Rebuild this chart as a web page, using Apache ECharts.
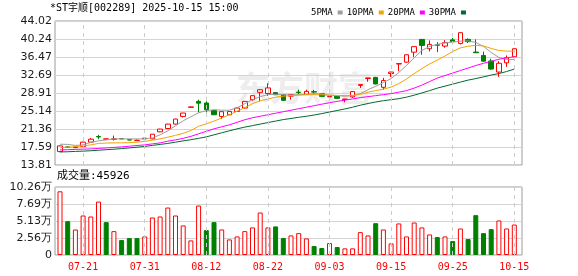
<!DOCTYPE html>
<html>
<head>
<meta charset="utf-8">
<script src="https://cdn.jsdelivr.net/npm/echarts@6.0.0/dist/echarts.min.js"></script>
<style>
  html, body { margin: 0; padding: 0; background: #fff; }
  #main { width: 578px; height: 276px; }
</style>
</head>
<body>
<div id="main"></div>
<script>
// 交易日
var dates = ['07-16','07-17','07-18','07-21','07-22','07-23','07-24','07-25','07-28','07-29','07-30','07-31',
  '08-01','08-04','08-05','08-06','08-07','08-08','08-11','08-12','08-13','08-14','08-15','08-18','08-19','08-20','08-21','08-22',
  '08-25','08-26','08-27','08-28','08-29','09-01','09-02','09-03','09-04','09-05','09-08','09-09','09-10','09-11','09-12','09-15',
  '09-16','09-17','09-18','09-19','09-22','09-23','09-24','09-25','09-26','09-29','09-30','10-09','10-10','10-13','10-14','10-15'];

// [开盘, 收盘, 最低, 最高]
var kline = [
  [16.62,17.82,16.50,17.90],[17.60,17.52,17.45,17.70],[17.45,17.56,17.35,17.65],[17.67,18.60,17.60,18.70],
  [18.60,19.23,18.55,19.50],[19.78,19.70,19.23,20.14],[19.22,19.30,19.15,19.35],[19.20,19.30,18.94,19.99],
  [19.35,19.30,19.25,19.40],[19.12,19.05,19.00,19.15],[18.95,19.00,18.90,19.15],[19.30,19.45,19.20,19.60],
  [19.29,20.28,19.20,20.30],[20.77,21.34,20.70,21.40],[21.46,22.39,21.40,22.45],[22.39,23.45,22.30,23.50],
  [24.00,24.71,23.78,24.75],[25.90,26.00,25.85,26.05],[27.16,26.78,24.84,27.52],[26.82,25.41,24.84,27.16],
  [25.26,24.35,24.30,25.30],[24.00,25.00,23.45,25.10],[24.35,25.05,24.30,25.10],[25.05,25.76,25.00,25.90],
  [25.76,27.16,25.70,27.20],[27.52,28.36,27.30,28.40],[29.05,29.60,27.16,29.70],[28.80,29.98,28.30,30.95],
  [29.00,28.55,28.50,29.10],[28.57,27.37,27.30,28.60],[28.25,28.57,27.52,28.60],[29.10,29.00,28.57,29.62],
  [28.65,29.26,28.50,29.60],[29.18,29.12,28.60,29.55],[28.75,28.21,28.15,28.80],[28.10,28.22,27.50,28.25],
  [28.21,27.79,27.75,28.25],[27.55,27.65,26.95,27.70],[28.10,29.20,27.90,29.30],[30.50,30.68,29.98,30.70],
  [31.95,32.08,31.30,32.10],[32.19,30.82,30.70,32.30],[30.11,31.52,29.62,32.09],[33.00,33.31,32.26,33.35],
  [35.00,35.08,33.48,35.10],[35.38,36.94,35.30,37.00],[37.48,38.64,36.47,38.70],[40.16,38.90,36.94,40.20],
  [38.20,39.11,37.63,39.95],[39.05,38.95,37.49,39.59],[38.75,39.47,38.41,40.01],[40.06,39.68,39.38,40.44],
  [39.32,41.57,39.10,41.60],[40.16,39.68,39.40,40.37],[37.50,37.36,37.30,40.16],[36.79,35.59,35.50,37.60],
  [35.62,33.94,33.80,36.10],[33.31,35.15,32.30,35.60],[35.25,36.30,34.41,36.79],[36.52,38.20,36.50,38.25]
];

var ma5 = [18.17,18.13,17.92,18.03,18.55,18.87,19.08,19.29,19.29,19.29,19.29,19.29,19.50,20.14,20.98,22.03,
  23.09,23.93,24.77,25.20,25.41,25.30,25.30,25.83,26.67,27.51,28.15,28.57,28.63,28.57,28.46,28.57,28.63,28.78,
  28.67,28.46,28.36,28.25,28.36,28.78,29.62,30.32,31.10,31.94,33.21,34.68,36.30,37.84,38.69,39.11,39.42,39.59,
  39.80,39.85,39.53,38.69,37.42,36.37,35.95,35.95];
var ma10 = [17.46,17.54,17.67,17.82,18.03,18.34,18.41,18.45,18.47,18.49,18.60,18.77,19.02,19.29,19.64,20.03,
  20.45,21.04,21.93,22.45,23.02,23.66,24.35,25.09,25.83,26.67,27.30,27.62,28.04,28.25,28.36,28.46,28.53,28.57,
  28.53,28.46,28.40,28.36,28.42,28.57,29.09,29.41,29.73,30.15,30.89,31.84,32.99,34.05,35.00,35.84,36.68,37.63,
  38.37,38.73,38.90,38.79,38.27,37.84,37.70,37.70];
var ma20 = [16.97,17.02,17.08,17.14,17.18,17.29,17.39,17.50,17.61,17.75,17.90,18.03,18.24,18.45,18.81,19.08,
  19.40,19.82,20.35,20.87,21.40,21.82,22.24,22.77,23.30,23.72,24.04,24.35,24.67,24.99,25.30,25.62,25.93,26.25,
  26.57,26.88,27.16,27.41,27.66,27.94,28.15,28.36,28.57,28.78,29.09,29.41,29.94,30.57,31.31,32.05,32.57,33.10,
  33.63,34.15,34.68,35.14,35.57,35.99,36.30,36.52];
var ma30 = [16.55,16.59,16.66,16.72,16.80,16.91,17.02,17.12,17.25,17.39,17.54,17.71,17.92,18.13,18.34,18.60,
  18.87,19.12,19.40,19.71,20.14,20.56,20.98,21.40,21.76,22.07,22.39,22.71,23.02,23.34,23.57,23.82,24.04,24.29,
  24.60,24.92,25.24,25.57,25.93,26.35,26.71,27.03,27.30,27.51,27.72,28.04,28.46,28.93,29.41,29.94,30.36,30.78,
  31.20,31.62,31.94,32.30,32.68,32.99,33.42,33.94];

// 成交量(手) 与 涨跌(1涨 0跌)
var volume = [96100,51000,38500,59600,58100,80600,49600,36000,22500,25500,25500,28000,56600,58100,71600,59600,
  44600,22000,74600,37600,49600,38500,23500,28000,36000,41600,64100,41600,43100,25500,29500,33000,25000,13500,
  10500,18000,12000,10000,10000,34500,29500,48000,38500,17500,47600,28000,49000,41600,31000,27000,28000,21000,
  40000,24000,60100,33000,39000,52100,40000,45926];
var volUp = [1,0,1,1,1,1,0,1,0,0,0,1,1,1,1,1,1,1,1,0,0,1,1,1,1,1,1,1,0,0,1,1,1,0,0,1,0,1,1,1,1,0,1,1,1,1,1,1,1,0,
  1,0,1,0,0,0,0,1,1,1];

var priceTicks = ['13.81','17.59','21.36','25.14','28.91','32.69','36.47','40.24','44.02'];
var volTicks = ['0','2.56万','5.13万','7.69万','10.26万'];
var priceMin = 13.81, priceMax = 44.02;
var volMax = 102600;

var RED = '#ff0000', GREEN = '#008000';
var labelFont = 'DejaVu Sans';
var monoFont = '"DejaVu Sans Mono", "Noto Sans CJK SC", monospace';

var priceStep = (priceMax - priceMin) / 8;
var volStep = volMax / 4;

var showDay = function (idx) { return (idx - 3) % 8 === 0; };
var markDays = dates.filter(function (d, i) { return showDay(i); }).map(function (d) { return { xAxis: d }; });
var dashLine = {
  silent: true,
  symbol: ['none', 'none'],
  label: { show: false },
  lineStyle: { color: '#cccccc', type: [4, 4], width: 1 },
  emphasis: { disabled: true },
  animation: false,
  data: markDays
};

var myChart = echarts.init(document.getElementById('main'), null, { renderer: 'canvas' });
myChart.setOption({
  animation: false,
  backgroundColor: '#fff',
  textStyle: { fontFamily: labelFont },
  legend: {
    data: ['5PMA', '10PMA', '20PMA', '30PMA'],
    left: 306,
    top: 3,
    align: 'right',
    icon: 'rect',
    itemWidth: 5,
    itemHeight: 4,
    itemGap: 4,
    selectedMode: false,
    textStyle: { fontFamily: monoFont, fontSize: 9, color: '#000' }
  },
  graphic: [
    {
      type: 'text', left: 50, top: 3, z: 10,
      style: { text: '*ST宇顺[002289] 2025-10-15 15:00', font: '10px ' + monoFont, fill: '#000' }
    },
    {
      type: 'text', left: 57, top: 171, z: 10,
      style: { text: '成交量:' + volume[volume.length - 1], font: '11px ' + monoFont, fill: '#000' }
    },
    {
      type: 'text', left: 236, top: 71, z: -1,
      style: { text: '东方财富', font: 'bold 34px "Noto Sans CJK SC"', fill: '#ededed' }
    }
  ],
  grid: [
    { left: 55, top: 21, width: 467, height: 144, show: true, borderColor: '#9a9a9a', borderWidth: 1, backgroundColor: 'transparent' },
    { left: 56.15, top: 21, width: 462, height: 144 },
    { left: 55, top: 187, width: 467, height: 68, show: true, borderColor: '#9a9a9a', borderWidth: 1, backgroundColor: 'transparent' },
    { left: 56.15, top: 187, width: 462, height: 68 }
  ],
  xAxis: [
    { type: 'value', gridIndex: 0, show: false, min: 0, max: 1 },
    { type: 'category', gridIndex: 1, data: dates, boundaryGap: true,
      axisLine: { show: false }, axisTick: { show: false }, axisLabel: { show: false }, splitLine: { show: false } },
    { type: 'value', gridIndex: 2, show: false, min: 0, max: 1 },
    { type: 'category', gridIndex: 3, data: dates, boundaryGap: true,
      axisLine: { show: false }, axisTick: { show: false }, splitLine: { show: false },
      axisLabel: { interval: function (i) { return showDay(i); }, color: RED, fontFamily: monoFont, fontSize: 10, margin: 7 } }
  ],
  yAxis: [
    { type: 'value', gridIndex: 0, min: priceMin, max: priceMax, interval: priceStep,
      axisLine: { show: false }, axisTick: { show: false },
      splitLine: { show: true, lineStyle: { color: '#d4d4d4', width: 1 } },
      axisLabel: { color: '#1a1a1a', fontSize: 11, margin: 3, fontFamily: labelFont,
        formatter: function (v) { return priceTicks[Math.round((v - priceMin) / priceStep)]; } } },
    { type: 'value', gridIndex: 1, min: priceMin, max: priceMax, show: false, splitLine: { show: false } },
    { type: 'value', gridIndex: 2, min: 0, max: volMax, interval: volStep,
      axisLine: { show: false }, axisTick: { show: false },
      splitLine: { show: true, lineStyle: { color: '#d4d4d4', width: 1 } },
      axisLabel: { color: '#1a1a1a', fontSize: 11, margin: 3, fontFamily: labelFont,
        formatter: function (v) { return volTicks[Math.round(v / volStep)]; } } },
    { type: 'value', gridIndex: 3, min: 0, max: volMax, show: false, splitLine: { show: false } }
  ],
  series: [
    {
      type: 'candlestick', name: 'K', xAxisIndex: 1, yAxisIndex: 1, data: kline, barWidth: 5, z: 3,
      itemStyle: { color: '#ffffff', color0: GREEN, borderColor: RED, borderColor0: GREEN, borderWidth: 1 },
      markLine: dashLine
    },
    { type: 'line', name: '5PMA', xAxisIndex: 1, yAxisIndex: 1, data: ma5, showSymbol: false, z: 4,
      color: '#9e9e9e', lineStyle: { width: 1, color: '#9e9e9e' } },
    { type: 'line', name: '10PMA', xAxisIndex: 1, yAxisIndex: 1, data: ma10, showSymbol: false, z: 4,
      color: '#f5a300', lineStyle: { width: 1, color: '#f5a300' } },
    { type: 'line', name: '20PMA', xAxisIndex: 1, yAxisIndex: 1, data: ma20, showSymbol: false, z: 4,
      color: '#ff00ff', lineStyle: { width: 1, color: '#ff00ff' } },
    { type: 'line', name: '30PMA', xAxisIndex: 1, yAxisIndex: 1, data: ma30, showSymbol: false, z: 4,
      color: '#006a33', lineStyle: { width: 1, color: '#006a33' } },
    {
      type: 'bar', name: '成交量', xAxisIndex: 3, yAxisIndex: 3, barWidth: 5, z: 3,
      data: volume.map(function (v, i) {
        return {
          value: v,
          itemStyle: volUp[i]
            ? { color: '#ffffff', borderColor: RED, borderWidth: 1 }
            : { color: GREEN, borderColor: GREEN, borderWidth: 1 }
        };
      }),
      markLine: dashLine
    }
  ]
});
</script>
</body>
</html>
